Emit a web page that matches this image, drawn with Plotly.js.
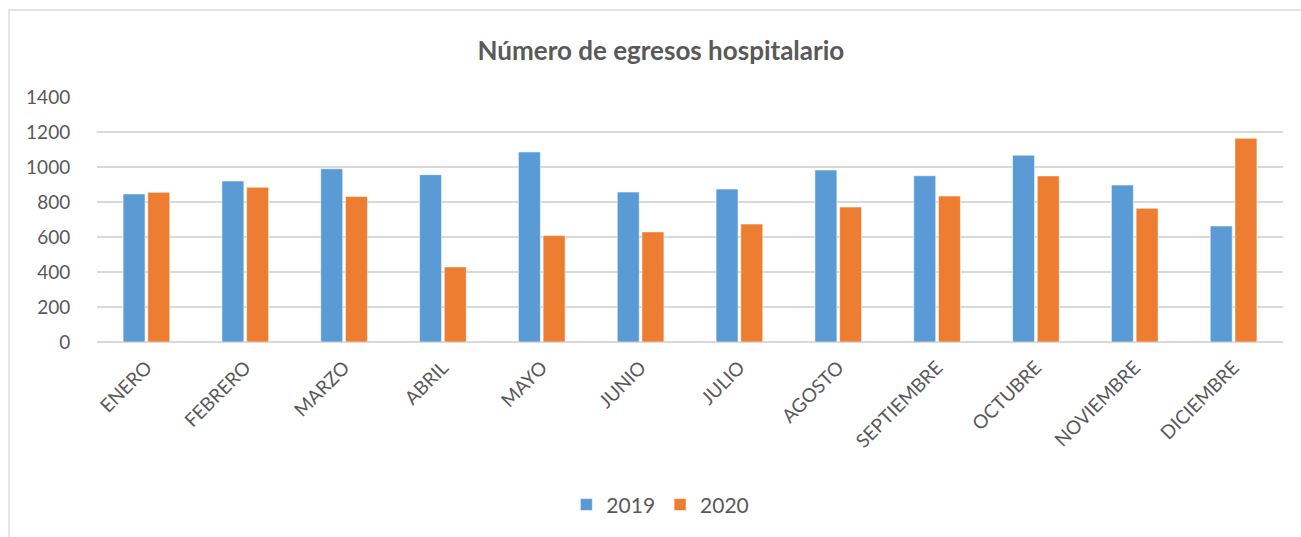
<!DOCTYPE html>
<html>
<head>
<meta charset="utf-8">
<script src="https://cdn.plot.ly/plotly-3.0.1.min.js"></script>
<style>
html,body{margin:0;padding:0;background:#fff;}
#chart{width:1301px;height:537px;}
</style>
</head>
<body>
<div id="chart"></div>
<script>
const months = ["ENERO","FEBRERO","MARZO","ABRIL","MAYO","JUNIO","JULIO","AGOSTO","SEPTIEMBRE","OCTUBRE","NOVIEMBRE","DICIEMBRE"];
const values2019 = [846, 920, 990, 956, 1086, 857, 874, 983, 950, 1067, 897, 663];
const values2020 = [855, 884, 832, 429, 608, 629, 674, 771, 834, 949, 764, 1164];
const seriesNames = ["2019", "2020"];
const seriesColors = ["#5B9BD5", "#ED7D31"];
const yTicks = [0, 200, 400, 600, 800, 1000, 1200, 1400];

const textColor = "#595959";
const fontFam = "Lato, 'Open Sans', sans-serif";

const traces = [values2019, values2020].map((vals, i) => ({
  type: "bar",
  name: seriesNames[i],
  x: months,
  y: vals,
  marker: {color: seriesColors[i], line: {color: "rgba(255,255,255,0.55)", width: 1}},
  hoverinfo: "x+y+name"
}));

const layout = {
  width: 1301,
  height: 537,
  margin: {l: 97, r: 18, t: 97, b: 195, pad: 0},
  paper_bgcolor: "#ffffff",
  plot_bgcolor: "#ffffff",
  font: {family: fontFam, color: textColor, size: 19},
  title: {
    text: "<b>Número de egresos hospitalario</b>",
    font: {family: fontFam, size: 26, color: textColor},
    xref: "container", x: 0.508, xanchor: "center",
    yref: "container", y: 0.905, yanchor: "middle"
  },
  barmode: "group",
  bargap: 0.5,
  bargroupgap: 0.11,
  xaxis: {
    type: "category",
    tickangle: -45,
    tickfont: {family: fontFam, size: 19, color: textColor},
    showgrid: false,
    showline: false,
    ticks: "outside",
    ticklen: 6,
    tickcolor: "rgba(0,0,0,0)",
    fixedrange: true
  },
  yaxis: {
    range: [0, 1400],
    tickvals: yTicks,
    ticktext: yTicks.map(String),
    tickfont: {family: fontFam, size: 19, color: textColor},
    showgrid: true,
    gridcolor: "#d9d9d9",
    gridwidth: 1.3,
    zeroline: true,
    zerolinecolor: "#d9d9d9",
    zerolinewidth: 1.3,
    showline: false,
    ticks: "outside",
    ticklen: 22,
    tickcolor: "rgba(0,0,0,0)",
    fixedrange: true
  },
  showlegend: true,
  legend: {
    orientation: "h",
    x: 0.475, xanchor: "center",
    y: -0.665, yanchor: "middle",
    font: {family: fontFam, size: 21, color: textColor},
    itemwidth: 30,
    traceorder: "normal"
  },
  shapes: [{
    type: "rect",
    xref: "paper", yref: "paper",
    x0: -0.0742, x1: 1.2, y0: -0.9, y1: 1.3551,
    line: {color: "#d9d9d9", width: 1.3},
    fillcolor: "rgba(0,0,0,0)",
    layer: "below"
  }]
};

Plotly.newPlot("chart", traces, layout, {displayModeBar: false, staticPlot: true});
</script>
</body>
</html>
